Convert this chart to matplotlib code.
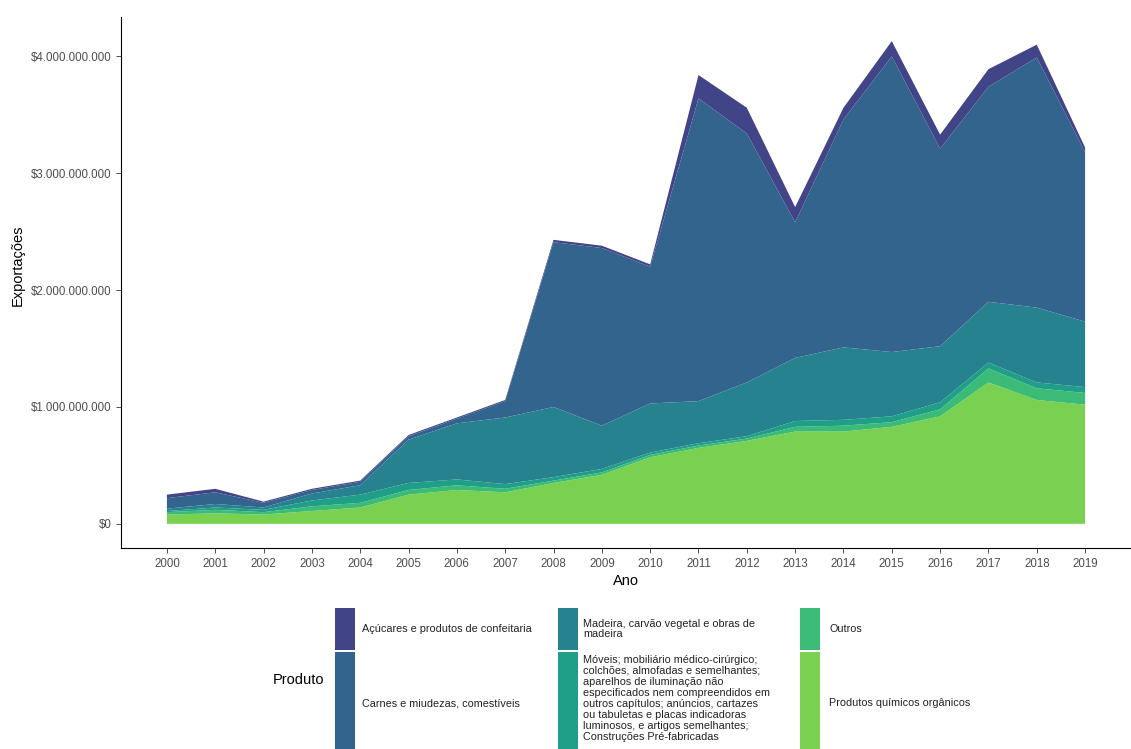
import numpy as np
import matplotlib
matplotlib.use("Agg")
import matplotlib.pyplot as plt
from matplotlib.ticker import FuncFormatter
from matplotlib.patches import Rectangle

plt.rcParams['font.family'] = ['Liberation Sans', 'DejaVu Sans']

# dados (valores em bilhões de US$)
anos = list(range(2000, 2020))
acucares = [0.03, 0.03, 0.01, 0.01, 0.01, 0.01, 0.01, 0.01, 0.02, 0.02,
            0.02, 0.20, 0.22, 0.13, 0.10, 0.13, 0.12, 0.15, 0.11, 0.04]
carnes = [0.09, 0.10, 0.04, 0.03, 0.03, 0.03, 0.04, 0.14, 1.41, 1.52,
          1.17, 2.59, 2.13, 1.16, 1.95, 2.53, 1.69, 1.84, 2.14, 1.45]
madeira = [0.02, 0.03, 0.02, 0.06, 0.08, 0.37, 0.48, 0.57, 0.60, 0.37,
           0.42, 0.36, 0.46, 0.54, 0.62, 0.55, 0.48, 0.52, 0.64, 0.56]
moveis = [0.01, 0.02, 0.02, 0.05, 0.07, 0.06, 0.05, 0.04, 0.03, 0.03,
          0.02, 0.02, 0.02, 0.05, 0.05, 0.05, 0.06, 0.05, 0.05, 0.05]
outros = [0.02, 0.03, 0.02, 0.04, 0.04, 0.04, 0.04, 0.03, 0.02, 0.02,
          0.02, 0.02, 0.02, 0.04, 0.05, 0.04, 0.06, 0.12, 0.10, 0.10]
quimicos = [0.08, 0.09, 0.08, 0.11, 0.14, 0.25, 0.29, 0.27, 0.35, 0.42,
            0.57, 0.65, 0.71, 0.79, 0.79, 0.83, 0.92, 1.21, 1.06, 1.02]

produtos = [
    "Açúcares e produtos de confeitaria",
    "Carnes e miudezas, comestíveis",
    "Madeira, carvão vegetal e obras de\nmadeira",
    "Móveis; mobiliário médico-cirúrgico;\ncolchões, almofadas e semelhantes;\n"
    "aparelhos de iluminação não\nespecificados nem compreendidos em\n"
    "outros capítulos; anúncios, cartazes\nou tabuletas e placas indicadoras\n"
    "luminosos, e artigos semelhantes;\nConstruções Pré-fabricadas",
    "Outros",
    "Produtos químicos orgânicos",
]
series = [acucares, carnes, madeira, moveis, outros, quimicos]
cores = plt.cm.viridis(np.linspace(0.2, 0.8, 6))

fig = plt.figure(figsize=(11.31, 7.49), dpi=100)
ax = fig.add_axes([121 / 1131, 1 - 548 / 749, 1 - 121 / 1131, (548 - 17) / 749])

# empilhar de baixo (químicos) para cima (açúcares)
valores = [np.array(s) * 1e9 for s in series]
ax.stackplot(anos, valores[::-1], colors=cores[::-1], linewidth=0)

ax.set_xlim(2000 - 0.95, 2019 + 0.95)
topo = max(np.sum(valores, axis=0))
ax.set_ylim(-0.05 * topo, 1.05 * topo)
ax.set_xticks(anos)
ax.set_yticks([0, 1e9, 2e9, 3e9, 4e9])
ax.yaxis.set_major_formatter(FuncFormatter(lambda v, p: "$" + f"{int(v):,}".replace(",", ".")))
ax.tick_params(labelsize=8.3, length=3.5, width=0.6, colors="#333333", labelcolor="#4D4D4D")
for s in ["top", "right"]:
    ax.spines[s].set_visible(False)
for s in ["left", "bottom"]:
    ax.spines[s].set_linewidth(0.8)
ax.set_xlabel("Ano", fontsize=10.5, labelpad=3)
ax.set_ylabel("Exportações", fontsize=10.5, labelpad=8)
ax.yaxis.set_label_coords(-0.095, 0.533)

# legenda (em pixels)
lg = fig.add_axes([0, 0, 1, 1], facecolor="none")
lg.set_xlim(0, 1131)
lg.set_ylim(749, 0)
lg.axis("off")
lg.text(273, 680, "Produto", fontsize=10.5, va="center", ha="left", color="black")
colunas = [(335, 362), (558, 583), (800, 829)]
linhas = [(608, 650), (652, 800)]
for i, nome in enumerate(produtos):
    c, r = i // 2, i % 2
    kx, tx = colunas[c]
    y0, y1 = linhas[r]
    lg.add_patch(Rectangle((kx, y0), 20, y1 - y0, facecolor=cores[i], edgecolor="none"))
    if r == 0:
        yt, va = (y0 + y1) / 2, "center"
    else:
        yt, va = (703, "center") if "\n" not in nome else (655, "top")
    lg.text(tx, yt, nome, fontsize=7.8, va=va, ha="left", color="#222222", linespacing=1.12)

fig.savefig("out.png", dpi=100)
